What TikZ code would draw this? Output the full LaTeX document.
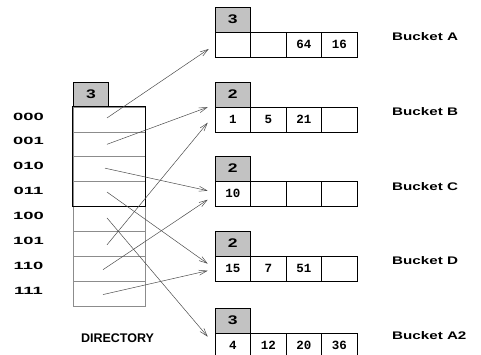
\documentclass[tikz,border=0pt]{standalone}
\usepackage{fontspec}
\setmainfont{Liberation Sans}
\newfontfamily\cellfont{Liberation Mono}
\usetikzlibrary{arrows.meta}

% horizontally widened text
\newcommand\widetxt[2]{\scalebox{#1}[1]{#2}}

\tikzset{
  hdr/.style={draw=black, fill=black!24, minimum width=35.5pt, minimum height=25pt,
    inner sep=0pt, line width=0.6pt, font=\bfseries\fontsize{12.5}{13}\selectfont},
  cellbox/.style={draw=black, minimum width=35.5pt, minimum height=25pt, inner sep=0pt,
    line width=0.6pt, font=\cellfont\bfseries\fontsize{12.5}{13}\selectfont},
  dirrow/.style={draw=black!45, minimum width=72pt, minimum height=24.875pt,
    inner sep=0pt, line width=0.6pt},
  rowlbl/.style={font=\bfseries\fontsize{10.5}{11}\selectfont, inner sep=0pt},
  bktlbl/.style={font=\bfseries\fontsize{11}{12}\selectfont, anchor=west, inner sep=0pt},
  ptr/.style={draw=black!70, line width=0.5pt, -{Straight Barb[length=8pt,width=5pt]}},
}

\begin{document}
\begin{tikzpicture}[x=1pt, y=-1pt]
\useasboundingbox (0,0) rectangle (481,355);
\clip (0,0) rectangle (481,355);

% ---------- directory ----------
\node[hdr] (dirhdr) at (91,94.5) {\widetxt{1.4}{3}};
\foreach \i/\b in {0/000,1/001,2/010,3/011,4/100,5/101,6/110,7/111}{
  \node[dirrow] (r\i) at (109,{107+24.875*(\i+0.5)}) {};
  \node[rowlbl] (l\i) at (28.5,{107+24.875*(\i+0.5)-3}) {\widetxt{1.75}{\b}};
}
\draw[black, line width=0.7pt] (r0.north west) rectangle (r3.south east);
\node[font=\bfseries\fontsize{12.5}{13}\selectfont] (dirname) at (117.5,338) {DIRECTORY};

% ---------- buckets ----------
% name / top of header / header digit / cell contents
\foreach \n/\t/\d/\ca/\cb/\cc/\cd in
  {bA/7/3/{}/{}/64/16, bB/82/2/1/5/21/{}, bC/156/2/10/{}/{}/{},
   bD/231/2/15/7/51/{}, bE/308/3/4/12/20/36}{
  \node[hdr] (\n h) at (232.75,\t+12.5) {\widetxt{1.4}{\d}};
  \node[cellbox] (\n c0) at (232.75,\t+37.5) {\ca};
  \node[cellbox] (\n c1) at (268.25,\t+37.5) {\cb};
  \node[cellbox] (\n c2) at (303.75,\t+37.5) {\cc};
  \node[cellbox] (\n c3) at (339.25,\t+37.5) {\cd};
}
\node[bktlbl] (ta) at (392,37)  {\widetxt{1.38}{Bucket A}};
\node[bktlbl] (tb) at (392,112) {\widetxt{1.38}{Bucket B}};
\node[bktlbl] (tc) at (392,187) {\widetxt{1.38}{Bucket C}};
\node[bktlbl] (td) at (392,261) {\widetxt{1.38}{Bucket D}};
\node[bktlbl] (te) at (392,336) {\widetxt{1.38}{Bucket A2}};

% ---------- pointers ----------
\coordinate (s0) at ([xshift=-2pt,yshift=1.5pt]r0.center);
\coordinate (s1) at ([xshift=-2pt,yshift=0pt]r1.center);
\coordinate (s2) at ([xshift=-4pt,yshift=1pt]r2.center);
\coordinate (s3) at ([xshift=-2pt,yshift=2pt]r3.center);
\coordinate (s4) at ([xshift=-2pt,yshift=1pt]r4.center);
\coordinate (s5) at ([xshift=-2pt,yshift=-1pt]r5.center);
\coordinate (s6) at ([xshift=-6pt,yshift=-1pt]r6.center);
\coordinate (s7) at ([xshift=-6pt,yshift=-1pt]r7.center);

\coordinate (ea)  at ([xshift=-6pt,yshift=-4.5pt]bAc0.west);
\coordinate (eb1) at ([xshift=-7pt,yshift=-0.5pt]bBc0.north west);
\coordinate (eb2) at ([xshift=-7pt,yshift=-16pt]bBc0.north west);
\coordinate (ec1) at ([xshift=-7pt,yshift=-10pt]bCc0.north west);
\coordinate (ec2) at ([xshift=-7pt,yshift=-19pt]bCc0.north west);
\coordinate (ed1) at ([xshift=-7pt,yshift=-8pt]bDc0.north west);
\coordinate (ed2) at ([xshift=-7pt,yshift=-15pt]bDc0.north west);
\coordinate (ee)  at ([xshift=-7pt,yshift=-4pt]bEc0.north west);

\draw[ptr] (s0) -- (ea);
\draw[ptr] (s1) -- (eb1);
\draw[ptr] (s5) -- (eb2);
\draw[ptr] (s2) -- (ec1);
\draw[ptr] (s6) -- (ec2);
\draw[ptr] (s3) -- (ed1);
\draw[ptr] (s7) -- (ed2);
\draw[ptr] (s4) -- (ee);
\end{tikzpicture}
\end{document}
